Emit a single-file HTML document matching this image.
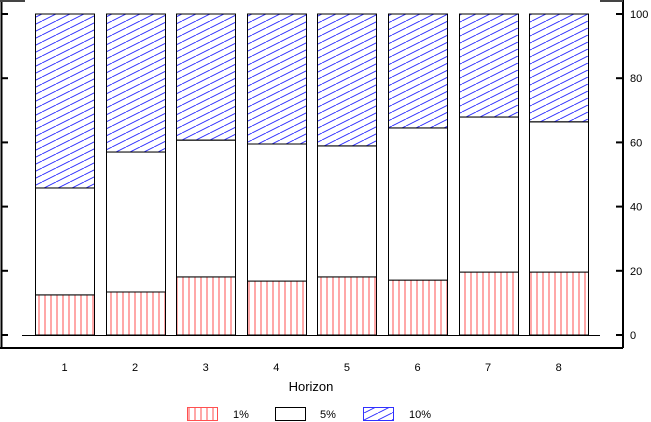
<!DOCTYPE html>
<html><head><meta charset="utf-8"><style>
body{margin:0;background:#fff}
svg{display:block;font-family:"Liberation Sans",sans-serif}
</style></head><body>
<svg id="chart" width="651" height="422" viewBox="0 0 651 422">
<defs>
<pattern id="pRed" patternUnits="userSpaceOnUse" width="6" height="6"><line x1="3" y1="0" x2="3" y2="6" stroke="#ff5050" stroke-width="1"/></pattern>
<pattern id="pBlue" patternUnits="userSpaceOnUse" width="14" height="7"><line x1="0" y1="7" x2="14" y2="0" stroke="#3030ff" stroke-width="1"/><line x1="-14" y1="7" x2="0" y2="0" stroke="#3030ff" stroke-width="1"/><line x1="14" y1="7" x2="28" y2="0" stroke="#3030ff" stroke-width="1"/></pattern>
</defs>
<g id="frame">
<line x1="1.5" y1="0" x2="1.5" y2="348" stroke="#000" stroke-width="2"/>
<line x1="0" y1="1" x2="25" y2="1" stroke="#444" stroke-width="2"/>
<line x1="0" y1="348" x2="623" y2="348" stroke="#000" stroke-width="2"/>
<line x1="623" y1="0" x2="623" y2="348" stroke="#000" stroke-width="2"/>
<line x1="600" y1="1" x2="623" y2="1" stroke="#444" stroke-width="2"/>
<line x1="22" y1="335.5" x2="600" y2="335.5" stroke="#000" stroke-width="1"/>
</g>
<g id="bars"></g>
<g id="axis"></g>
<text x="311" y="391" text-anchor="middle" font-size="13">Horizon</text>
<g font-size="11">
<g><rect x="187.5" y="407.5" width="30" height="13" fill="url(#pRed)" stroke="#ff5050"/><text x="233" y="418">1%</text></g>
<g><rect x="275.5" y="407.5" width="30" height="13" fill="#fff" stroke="#000"/><text x="320" y="418">5%</text></g>
<g><rect x="363.5" y="407.5" width="30" height="13" fill="url(#pBlue)" stroke="#3030ff"/><text x="409" y="418">10%</text></g>
</g>
</svg>
<script>
const categories=["1","2","3","4","5","6","7","8"];
const pct1=[12.5,13.4,18.1,16.8,18.1,17.1,19.6,19.6];
const pct5=[33.3,43.6,42.6,42.7,40.8,47.4,48.3,46.8];
const pct10=[54.2,43.0,39.3,40.5,41.1,35.5,32.1,33.6];
const yTicks=[0,20,40,60,80,100];
const NS="http://www.w3.org/2000/svg";
const y=v=>335-v*3.21;
const xc=i=>64.5+i*70.6;
const bw=59;
const bars=document.getElementById('bars'),axis=document.getElementById('axis');
function mk(tag,attrs,parent){const e=document.createElementNS(NS,tag);for(const k in attrs)e.setAttribute(k,attrs[k]);parent.appendChild(e);return e;}
categories.forEach((c,i)=>{
  const segs=[[pct1[i],'url(#pRed)','#000','1pct'],[pct5[i],'#fff','#000','5pct'],[pct10[i],'url(#pBlue)','#000','10pct']];
  let base=0;
  segs.forEach(s=>{
    const r=mk('rect',{x:Math.round(xc(i)-bw/2)+0.5,y:y(base+s[0]),width:bw,height:s[0]*3.21,fill:s[1],stroke:s[2],'stroke-width':1},bars);
    
    
    base+=s[0];
  });
  const t=mk('text',{x:xc(i),y:371,'text-anchor':'middle','font-size':11},axis);
  t.textContent=c;
  
  
});
yTicks.forEach(v=>{
  mk('line',{x1:616,x2:623,y1:y(v),y2:y(v),stroke:'#000','stroke-width':2},axis);
  mk('line',{x1:1,x2:8,y1:y(v),y2:y(v),stroke:'#000','stroke-width':2},axis);
  const t=mk('text',{x:630,y:y(v)+4,'font-size':11},axis);
  t.textContent=v;
  
  
});
</script>
</body></html>
